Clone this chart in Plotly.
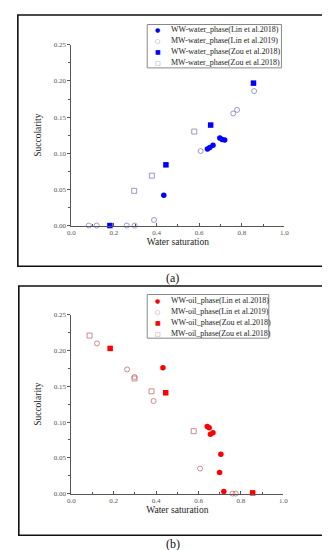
import plotly.graph_objects as go

# ---------------- data (panel a: water phase) ----------------
a_ww_lin_x = [0.434, 0.639, 0.650, 0.665, 0.697, 0.708, 0.720]
a_ww_lin_y = [0.042, 0.106, 0.108, 0.111, 0.121, 0.119, 0.1185]
a_mw_lin_x = [0.082, 0.119, 0.260, 0.297, 0.388, 0.607, 0.760, 0.778, 0.858]
a_mw_lin_y = [0.000, 0.000, 0.000, 0.000, 0.0077, 0.103, 0.155, 0.160, 0.186]
a_ww_zou_x = [0.181, 0.444, 0.654, 0.855]
a_ww_zou_y = [0.000, 0.084, 0.139, 0.197]
a_mw_zou_x = [0.295, 0.378, 0.577]
a_mw_zou_y = [0.048, 0.069, 0.130]

# ---------------- data (panel b: oil phase) ----------------
b_ww_lin_x = [0.432, 0.641, 0.650, 0.656, 0.668, 0.705, 0.699, 0.719]
b_ww_lin_y = [0.176, 0.094, 0.092, 0.083, 0.085, 0.055, 0.0295, 0.003]
b_mw_lin_x = [0.121, 0.263, 0.298, 0.388, 0.607, 0.760, 0.775]
b_mw_lin_y = [0.210, 0.1736, 0.163, 0.1295, 0.035, 0.000, 0.000]
b_ww_zou_x = [0.183, 0.445, 0.855]
b_ww_zou_y = [0.203, 0.141, 0.001]
b_mw_zou_x = [0.086, 0.298, 0.378, 0.577]
b_mw_zou_y = [0.221, 0.161, 0.143, 0.0873]

names_a = ["WW-water_phase(Lin et al.2018)", "MW-water_phase(Lin et al.2019)",
           "WW-water_phase(Zou et al.2018)", "MW-water_phase(Zou et al.2018)"]
names_b = ["WW-oil_phase(Lin et al.2018)", "MW-oil_phase(Lin et al.2019)",
           "WW-oil_phase(Zou et al.2018)", "MW-oil_phase(Zou et al.2018)"]

BLUE = "#0000ff"
LAV = "#8080c0"
RED = "#ff0000"
ROSE = "#c07070"
SERIF = "Liberation Serif"

fig = go.Figure()


def add(x, y, name, color, symbol, xa, ya):
    is_open = symbol.endswith("open")
    fig.add_trace(go.Scatter(
        x=x, y=y, mode="markers", name=name, xaxis=xa, yaxis=ya,
        cliponaxis=False, showlegend=False,
        marker=dict(color=color, symbol=symbol, size=5 if is_open else 5.5,
                    line=dict(color=color, width=0.8 if is_open else 0))))


add(a_ww_lin_x, a_ww_lin_y, names_a[0], BLUE, "circle", "x", "y")
add(a_mw_lin_x, a_mw_lin_y, names_a[1], LAV, "circle-open", "x", "y")
add(a_ww_zou_x, a_ww_zou_y, names_a[2], BLUE, "square", "x", "y")
add(a_mw_zou_x, a_mw_zou_y, names_a[3], LAV, "square-open", "x", "y")

add(b_ww_lin_x, b_ww_lin_y, names_b[0], RED, "circle", "x2", "y2")
add(b_mw_lin_x, b_mw_lin_y, names_b[1], ROSE, "circle-open", "x2", "y2")
add(b_ww_zou_x, b_ww_zou_y, names_b[2], RED, "square", "x2", "y2")
add(b_mw_zou_x, b_mw_zou_y, names_b[3], ROSE, "square-open", "x2", "y2")

tickfont = dict(family=SERIF, size=7, color="#555555")
titlefont = dict(family=SERIF, size=9.5, color="#222222")


def xax(domain, anchor):
    return dict(domain=domain, anchor=anchor, range=[0, 1], showgrid=False,
                zeroline=False, showline=True, linecolor="#555555", linewidth=1,
                ticks="inside", ticklen=3, tickcolor="#555555", dtick=0.2,
                tick0=0, tickformat=".1f", tickfont=tickfont,
                minor=dict(dtick=0.1, ticks="inside", ticklen=2, tickcolor="#555555"),
                title=dict(text="Water saturation", font=titlefont, standoff=2))


def yax(domain, anchor):
    return dict(domain=domain, anchor=anchor, range=[0, 0.25], showgrid=False,
                zeroline=False, showline=True, linecolor="#555555", linewidth=1,
                ticks="outside", ticklen=3, tickcolor="#555555", dtick=0.05,
                tick0=0, tickformat=".2f", tickfont=tickfont,
                minor=dict(dtick=0.025, ticks="outside", ticklen=2, tickcolor="#555555"),
                title=dict(text="Succolarity", font=titlefont, standoff=10))


fig.update_layout(
    width=330, height=550,
    margin=dict(l=0, r=0, t=0, b=0),
    paper_bgcolor="white", plot_bgcolor="white",
    showlegend=False,
    xaxis=xax([61 / 330, 280 / 330], "y"),
    yaxis=yax([1 - 216.7 / 550, 1 - 33.3 / 550], "x"),
    xaxis2=xax([61 / 330, 279 / 330], "y2"),
    yaxis2=yax([1 - 488.7 / 550, 1 - 307.3 / 550], "x2"),
)

shapes = []
annotations = []


def px(x):
    return x / 330


def py(y):
    return 1 - y / 550


# outer panel frames
shapes.append(dict(type="rect", xref="paper", yref="paper", x0=px(6), x1=px(325),
                   y0=py(258), y1=py(3), line=dict(color="#111111", width=1.6)))
shapes.append(dict(type="rect", xref="paper", yref="paper", x0=px(7), x1=px(322),
                   y0=py(531), y1=py(278), line=dict(color="#111111", width=1.6)))

# legend boxes
shapes.append(dict(type="rect", xref="paper", yref="paper", x0=px(139), x1=px(277),
                   y0=py(56.7), y1=py(12.7), line=dict(color="#888888", width=1),
                   fillcolor="white"))
shapes.append(dict(type="rect", xref="paper", yref="paper", x0=px(139), x1=px(264),
                   y0=py(331), y1=py(286.7), line=dict(color="#888888", width=1),
                   fillcolor="white"))

sym = ["●", "○", "■", "□"]
cols_a = [BLUE, LAV, BLUE, LAV]
cols_b = [RED, ROSE, RED, ROSE]
rows_a = [18.0, 29.0, 40.3, 51.3]
rows_b = [292.8, 303.8, 314.8, 325.8]
for i in range(4):
    for names, cols, rows in ((names_a, cols_a, rows_a), (names_b, cols_b, rows_b)):
        annotations.append(dict(xref="paper", yref="paper", x=px(150), y=py(rows[i]),
                                xanchor="center", yanchor="middle", showarrow=False,
                                text=sym[i], font=dict(family="DejaVu Sans", size=6, color=cols[i])))
        annotations.append(dict(xref="paper", yref="paper", x=px(161), y=py(rows[i]),
                                xanchor="left", yanchor="middle", showarrow=False,
                                text=names[i], font=dict(family=SERIF, size=8, color="#222222")))

# panel labels
annotations.append(dict(xref="paper", yref="paper", x=0.5, y=py(270), xanchor="center",
                        yanchor="middle", showarrow=False, text="(a)",
                        font=dict(family=SERIF, size=12, color="#111111")))
annotations.append(dict(xref="paper", yref="paper", x=0.5, y=py(540), xanchor="center",
                        yanchor="middle", showarrow=False, text="(b)",
                        font=dict(family=SERIF, size=12, color="#111111")))

fig.update_layout(shapes=shapes, annotations=annotations)
fig.write_html("out.html")
